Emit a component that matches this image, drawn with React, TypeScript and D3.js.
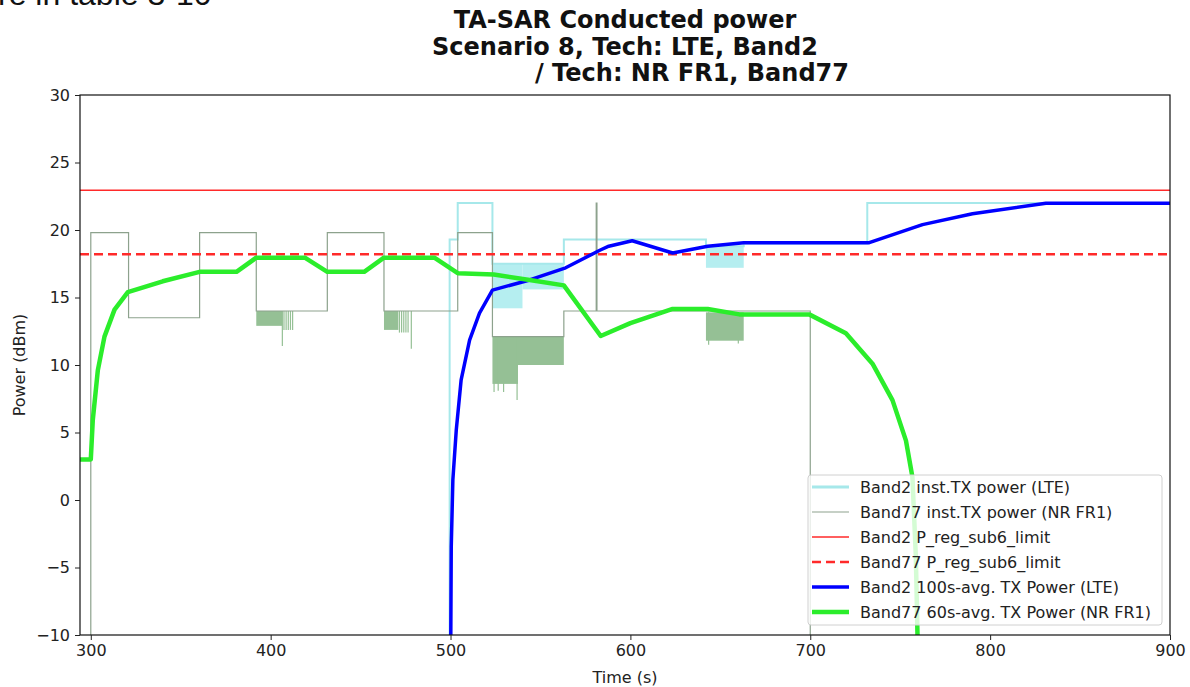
import React from 'react';
import * as d3 from 'd3';

const width = 1190;
const height = 687;
const margin = {top: 95, right: 20, bottom: 52, left: 80};
const font = 'DejaVu Sans';

const cyan = '#a6e8ea';
const cyanBurst = '#b5eef0';
const grey = '#8da28d';
const burstGreen = '#95c095';
const red = '#ff2a2a';
const blue = '#0000ff';
const green = '#2bed2b';

const xTicks = [300, 400, 500, 600, 700, 800, 900];
const yTicks = [-10, -5, 0, 5, 10, 15, 20, 25, 30];

const band2Limit = 22.95;
const band77Limit = 18.2;

// inst. TX power, [time s, dBm], held until the next point
const band2Inst: [number, number][] = [
  [294, -30], [499.5, 19.3], [504, 22.0], [523.3, 17.5], [563, 19.3],
  [642, 18.8], [663, 19.0], [731.7, 22.0], [900, 22.0],
];
const band77Inst: [number, number][] = [
  [294, -30], [300, 19.8], [321, 13.5], [360.5, 19.8], [392, 14.0],
  [431.5, 19.8], [463, 14.0], [504, 19.8], [523.3, 12.1], [563, 14.0],
  [581, 22.0], [581.4, 14.0], [700, -30], [900, -30],
];

// fast toggling bursts: [start, end, high, low]
const band2Bursts: [number, number, number, number][] = [
  [523.3, 540, 17.5, 14.2],
  [540, 563, 17.5, 15.6],
  [642, 663, 18.8, 17.2],
];
const band77Bursts: [number, number, number, number][] = [
  [392, 406.5, 14.0, 12.9],
  [463, 471, 14.0, 12.6],
  [523.3, 537.5, 12.1, 8.6],
  [537.5, 563, 12.1, 10.0],
  [642, 663, 13.9, 11.8],
];
// dips inside the bursts: [time, high, low]
const band77Spikes: [number, number, number][] = [
  [406.5, 14.0, 11.4], [407.4, 14.0, 12.6], [408.6, 14.0, 12.6], [409.8, 14.0, 12.6],
  [411.0, 14.0, 12.6], [412.2, 14.0, 12.6],
  [471.6, 14.0, 12.4], [472.8, 14.0, 12.4], [474.0, 14.0, 12.4], [475.2, 14.0, 12.4],
  [476.4, 14.0, 12.4], [478.2, 14.0, 11.2],
  [524.2, 12.1, 8.0], [526.5, 12.1, 8.1], [529.5, 12.1, 8.0], [537.0, 12.1, 7.4],
  [643.5, 13.9, 11.5], [660.0, 13.9, 11.6],
];

// running averages, [time s, dBm]
const band2Avg: [number, number][] = [
  [500.0, -14], [500.4, -3.5], [501.3, 1.5], [503.2, 5.2], [505.9, 8.9],
  [510.6, 11.85], [516.1, 13.85], [523.3, 15.55], [544, 16.3], [564, 17.2],
  [583, 18.5], [588, 18.8], [601, 19.2], [623.5, 18.3], [643, 18.8],
  [663, 19.06], [732.8, 19.06], [762.4, 20.4], [790.2, 21.2], [831, 21.98],
  [900, 21.98],
];
const band77Avg: [number, number][] = [
  [294, 3.0], [300, 3.0], [301.1, 5.9], [303.9, 9.6], [307.6, 12.1],
  [313.2, 14.1], [320.6, 15.4], [340, 16.2], [360.5, 16.9], [381, 16.9],
  [392, 17.95], [419, 17.95], [431.5, 16.9], [452, 16.9], [463, 17.95],
  [491, 17.95], [504, 16.8], [524, 16.7], [544, 16.3], [563, 15.9],
  [583.5, 12.15], [600, 13.1], [623.5, 14.15], [643, 14.15], [660.6, 13.75],
  [699.4, 13.75], [719.8, 12.35], [734.6, 10.1], [745.7, 7.4], [753.2, 4.4],
  [756.8, 1.7], [758.7, -4.2], [759.6, -9.9], [760, -14],
];

const legendLabels = [
  'Band2 inst.TX power (LTE)',
  'Band77 inst.TX power (NR FR1)',
  'Band2 P_reg_sub6_limit',
  'Band77 P_reg_sub6_limit',
  'Band2 100s-avg. TX Power (LTE)',
  'Band77 60s-avg. TX Power (NR FR1)',
];
const legendStyles = [
  {stroke: cyan, width: 3, dash: ''},
  {stroke: grey, width: 1.2, dash: ''},
  {stroke: red, width: 1.5, dash: ''},
  {stroke: red, width: 2.5, dash: '9,5'},
  {stroke: blue, width: 3.5, dash: ''},
  {stroke: green, width: 4.5, dash: ''},
];

const App: React.FC = () => {
  const xAxisRef = React.useRef<SVGGElement>(null);
  const yAxisRef = React.useRef<SVGGElement>(null);

  const xScale = d3.scaleLinear()
    .domain([294, 900])
    .range([margin.left, width - margin.right]);
  const yScale = d3.scaleLinear()
    .domain([-10, 30])
    .range([height - margin.bottom, margin.top]);

  React.useEffect(() => {
    const xAxis = d3.axisBottom(xScale)
      .tickValues(xTicks)
      .tickSize(5)
      .tickPadding(5)
      .tickFormat(d => `${d}`);
    const yAxis = d3.axisLeft(yScale)
      .tickValues(yTicks)
      .tickSize(5)
      .tickPadding(5)
      .tickFormat(d => (+d < 0 ? `\u2212${-d}` : `${d}`));

    if (xAxisRef.current) {
      const g = d3.select(xAxisRef.current).call(xAxis);
      g.select('.domain').remove();
      g.attr('font-size', 16).attr('font-family', font).attr('color', '#222');
    }
    if (yAxisRef.current) {
      const g = d3.select(yAxisRef.current).call(yAxis);
      g.select('.domain').remove();
      g.attr('font-size', 16).attr('font-family', font).attr('color', '#222');
    }
  }, []);

  const stepLine = d3.line<[number, number]>()
    .x(d => xScale(d[0]))
    .y(d => yScale(d[1]))
    .curve(d3.curveStepAfter);
  const avgLine = d3.line<[number, number]>()
    .x(d => xScale(d[0]))
    .y(d => yScale(d[1]));

  const plotW = width - margin.left - margin.right;
  const plotH = height - margin.top - margin.bottom;
  const cx = margin.left + plotW / 2;

  const burstRect = (b: [number, number, number, number], fill: string, key: string) => (
    <rect key={key}
      x={xScale(b[0])} width={xScale(b[1]) - xScale(b[0])}
      y={yScale(b[2])} height={yScale(b[3]) - yScale(b[2])}
      fill={fill} />
  );

  return (
    <svg width={width} height={height} style={{position: 'absolute', left: 0, top: 0, background: '#fff'}}>
      <defs>
        <clipPath id="plot-clip">
          <rect x={margin.left} y={margin.top} width={plotW} height={plotH} />
        </clipPath>
      </defs>

      <text x={-2} y={5} fontSize={32} fontFamily="Liberation Sans" fill="#111">re in table 3-10-</text>

      <g fontFamily={font} fontWeight="bold" fontSize={24} fill="#111" textAnchor="middle">
        <text x={cx} y={28}>TA-SAR Conducted power</text>
        <text x={cx} y={54.5}>Scenario 8, Tech: LTE, Band2</text>
        <text x={535} y={81} textAnchor="start">/ Tech: NR FR1, Band77</text>
      </g>

      <g clipPath="url(#plot-clip)">
        {band2Bursts.map((b, i) => burstRect(b, cyanBurst, `cb${i}`))}
        <path d={stepLine(band2Inst) || ''} fill="none" stroke={cyan} strokeWidth={2} />
        {band77Bursts.map((b, i) => burstRect(b, burstGreen, `gb${i}`))}
        {band77Spikes.map((s, i) => (
          <line key={`sp${i}`} x1={xScale(s[0])} x2={xScale(s[0])}
            y1={yScale(s[1])} y2={yScale(s[2])} stroke={burstGreen} strokeWidth={1.2} />
        ))}
        <path d={stepLine(band77Inst) || ''} fill="none" stroke={grey} strokeWidth={1.2} />
        <line x1={margin.left} x2={width - margin.right} y1={yScale(band2Limit)} y2={yScale(band2Limit)}
          stroke={red} strokeWidth={1.5} />
        <line x1={margin.left} x2={width - margin.right} y1={yScale(band77Limit)} y2={yScale(band77Limit)}
          stroke={red} strokeWidth={2.5} strokeDasharray="9,5" />
        <path d={avgLine(band2Avg) || ''} fill="none" stroke={blue} strokeWidth={3.5} strokeLinejoin="round" />
        <path d={avgLine(band77Avg) || ''} fill="none" stroke={green} strokeWidth={4.5} strokeLinejoin="round" />
      </g>

      <rect x={margin.left} y={margin.top} width={plotW} height={plotH} fill="none" stroke="#111" strokeWidth={1.2} />
      <g ref={xAxisRef} transform={`translate(0, ${height - margin.bottom})`} />
      <g ref={yAxisRef} transform={`translate(${margin.left}, 0)`} />

      <text x={cx} y={683} textAnchor="middle" fontFamily={font} fontSize={16} fill="#222">Time (s)</text>
      <text transform={`translate(25, ${margin.top + plotH / 2}) rotate(-90)`} textAnchor="middle"
        fontFamily={font} fontSize={16} fill="#222">Power (dBm)</text>

      <g>
        <rect x={808} y={475} width={354} height={150} rx={3} fill="#fff" fillOpacity={0.8} stroke="#d0d0d0" />
        {legendLabels.map((label, i) => {
          const y = 487 + i * 25;
          const s = legendStyles[i];
          return (
            <g key={label}>
              <line x1={812} x2={849} y1={y} y2={y} stroke={s.stroke} strokeWidth={s.width}
                strokeDasharray={s.dash || undefined} />
              <text x={860} y={y} dy="0.35em" fontFamily={font} fontSize={16} fill="#222">{label}</text>
            </g>
          );
        })}
      </g>
    </svg>
  );
};

export default App;
